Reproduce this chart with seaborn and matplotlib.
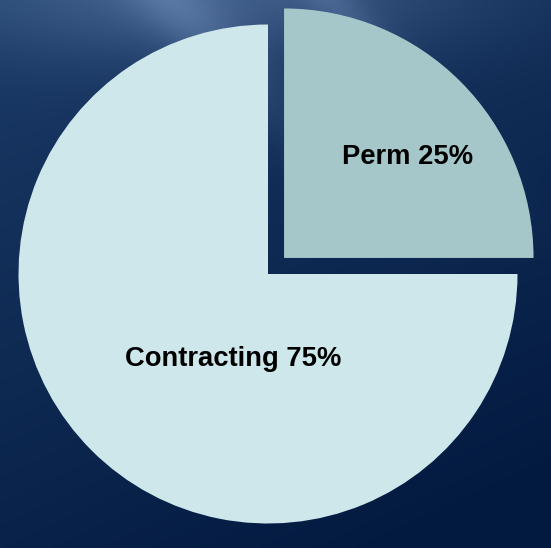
import numpy as np
import matplotlib
matplotlib.use("Agg")
import matplotlib.pyplot as plt
import seaborn as sns

categories = ["Perm", "Contracting"]
values = [25, 75]
colors = ["#a5c7c9", "#cde7ea"]

sns.set_style("white")
plt.rcParams['font.family'] = ['Liberation Sans', 'DejaVu Sans']

fig = plt.figure(figsize=(5.51, 5.48), dpi=100)
ax = fig.add_axes([0, 0, 1, 1])
R = 249.5
xl, xr = -268 / R, (551 - 268) / R
yb, yt = -(548 - 274) / R, 274 / R

# background gradient (pixel grid, top row first)
H, W = 548, 551
yy, xx = np.mgrid[0:H, 0:W].astype(float)
u = xx / W
v = yy / H
t = np.clip(0.75 * v + 0.35 * u, 0, 1)
c0 = np.array([0x1a, 0x3a, 0x66]) / 255
c1 = np.array([0x03, 0x1a, 0x40]) / 255
img = c0[None, None, :] * (1 - t[..., None]) + c1[None, None, :] * t[..., None]
# light haze along the top, strongest at upper-left/centre
haze = np.exp(-((yy + 10) / 70.0) ** 2) * np.exp(-((xx - 200) / 260.0) ** 2) * 0.16
# diagonal streaks running down-right
d1 = (xx - 0.9 * yy - 170)
d2 = (xx - 0.9 * yy - 330)
streak = (np.exp(-(d1 / 45) ** 2) * 0.10 + np.exp(-(d2 / 30) ** 2) * 0.08) * np.exp(-(yy / 140.0) ** 2)
img = np.clip(img + (haze + streak)[..., None], 0, 1)
ax.imshow(img, extent=[xl, xr, yb, yt], aspect='auto', zorder=0, interpolation='bilinear')

wedges, _ = ax.pie(values, colors=colors, startangle=0, counterclock=True,
                   explode=[0.091, 0], radius=1.0, center=(0, 0),
                   wedgeprops=dict(linewidth=0))
for w in wedges:
    w.set_zorder(2)

# labels
label_pos = [(0.56, 0.468), (-0.14, -0.342)]
for cat, val, (lx, ly) in zip(categories, values, label_pos):
    ax.text(lx, ly, f"{cat} {val}%", ha='center', va='center',
            fontsize=19.7, fontweight='bold', color='black', zorder=3)

ax.set_xlim(xl, xr)
ax.set_ylim(yb, yt)
ax.set_aspect('auto')
ax.axis('off')
fig.savefig("out.png", dpi=100)
